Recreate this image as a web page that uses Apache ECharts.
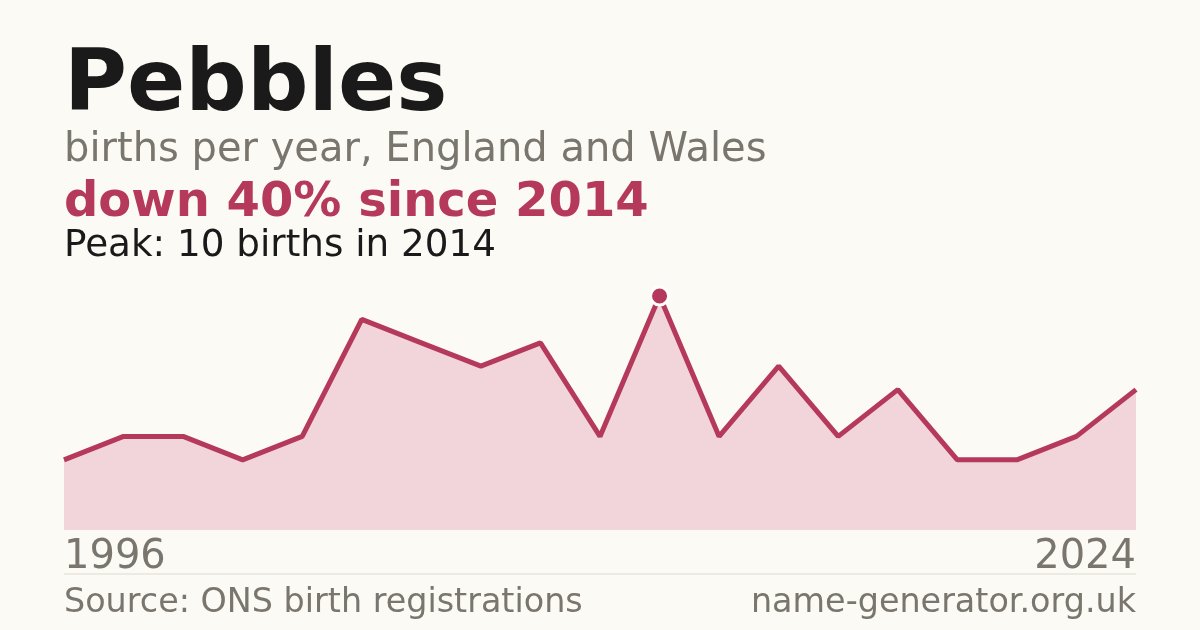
<!DOCTYPE html>
<html>
<head>
    <meta charset="utf-8">
    <title>Pebbles</title>
    <script src="https://cdn.jsdelivr.net/npm/echarts@6/dist/echarts.min.js"></script>
    <style>
        html, body { margin: 0; padding: 0; background: #fbfaf5; }
        #chart { width: 1200px; height: 630px; }
    </style>
</head>
<body>
    <div id="chart"></div>

    <script>
        // data
        const years = ['1996', '1998', '2000', '2001', '2003', '2004', '2006', '2008', '2010', '2012',
                       '2014', '2015', '2016', '2018', '2019', '2020', '2021', '2022', '2024'];
        const births = [3, 4, 4, 3, 4, 9, 8, 7, 8, 4, 10, 4, 7, 4, 6, 3, 3, 4, 6];
        const shownYears = ['1996', '2024'];

        const red = '#b5395a';
        const grey = '#7a766e';
        const font = 'DejaVu Sans';

        const myChart = echarts.init(document.getElementById('chart'));

        function heading(text, top, size, weight, color, side) {
            const t = {
                text: text, top: top, padding: 0,
                textStyle: { fontFamily: font, fontSize: size, fontWeight: weight, color: color }
            };
            if (side === 'right') t.right = 64; else t.left = 64;
            return t;
        }

        const option = {
            backgroundColor: '#fbfaf5',
            animation: false,
            title: [
                heading('Pebbles', 45, 86, 'bold', '#1a1a1a'),
                heading('births per year, England and Wales', 131, 40, 'normal', grey),
                heading('down 40% since 2014', 180, 48, 'bold', red),
                heading('Peak: 10 births in 2014', 228, 37.3, 'normal', '#1a1a1a'),
                heading('Source: ONS birth registrations', 587, 33.4, 'normal', grey),
                heading('name-generator.org.uk', 587, 33.4, 'normal', grey, 'right')
            ],
            grid: { left: 64, right: 64, top: 296, bottom: 100 },
            xAxis: {
                type: 'category',
                data: years,
                boundaryGap: false,
                axisLine: { show: false },
                axisTick: { show: false },
                splitLine: { show: false },
                axisLabel: {
                    interval: 0,
                    formatter: v => shownYears.includes(v) ? v : '',
                    alignMinLabel: 'left',
                    alignMaxLabel: 'right',
                    margin: 8,
                    fontFamily: font,
                    fontSize: 40,
                    color: grey
                }
            },
            yAxis: {
                type: 'value',
                min: 0,
                max: 10,
                show: false
            },
            graphic: [
                { type: 'line', shape: { x1: 64, y1: 574, x2: 1136, y2: 574 },
                  style: { stroke: '#dedad2', lineWidth: 1 } }
            ],
            series: [
                {
                    type: 'line',
                    data: births,
                    symbol: 'none',
                    clip: false,
                    lineStyle: { color: red, width: 5 },
                    areaStyle: { color: '#f2d5da', opacity: 1 },
                    markPoint: {
                        data: [{ type: 'max' }],
                        symbol: 'circle',
                        symbolSize: 18,
                        label: { show: false },
                        itemStyle: { color: red, borderColor: '#ffffff', borderWidth: 3 }
                    }
                }
            ]
        };

        myChart.setOption(option);
    </script>
</body>
</html>
